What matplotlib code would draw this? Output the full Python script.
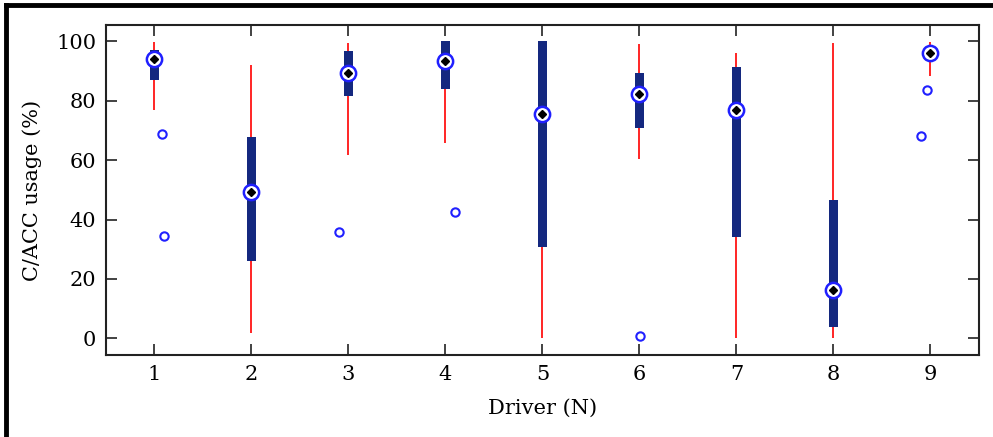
import matplotlib.pyplot as plt
from matplotlib.lines import Line2D

# per-driver box statistics (C/ACC usage in %)
drivers = [1, 2, 3, 4, 5, 6, 7, 8, 9]
whisk_lo = [76.8, 1.8, 61.8, 65.9, 0.0, 60.5, 0.0, 0.0, 88.2]
q1 = [86.9, 26.0, 81.5, 84.1, 30.7, 70.7, 34.1, 3.8, 94.0]
medians = [93.9, 49.3, 89.3, 93.3, 75.6, 82.4, 77.0, 16.2, 96.1]
q3 = [97.2, 67.8, 96.8, 100.0, 100.0, 89.4, 91.4, 46.7, 98.0]
whisk_hi = [99.9, 92.1, 99.5, 100.0, 100.0, 99.0, 96.2, 99.5, 99.9]

# outliers (x includes the jitter seen in the picture)
out_x = [1.08, 1.10, 2.90, 4.10, 6.01, 8.96, 8.90]
out_y = [68.9, 34.3, 35.8, 42.5, 0.7, 83.7, 68.2]

navy = '#14287f'
blue = '#2020ff'

plt.rcParams['font.family'] = 'DejaVu Serif'
fig = plt.figure(figsize=(9.93, 4.37), dpi=100)
ax = fig.add_axes([0.1067, 0.1876, 0.8792, 0.7552])

ax.vlines(drivers, whisk_lo, whisk_hi, colors='red', linewidth=1.2, zorder=1)
ax.bar(drivers, [t - b for t, b in zip(q3, q1)], bottom=q1, width=0.1,
       color=navy, zorder=2)
ax.plot(drivers, medians, 'o', ms=11, mfc='white', mec=blue, mew=1.8, zorder=3)
ax.plot(drivers, medians, 'D', ms=4.5, color='black', zorder=4)
ax.plot(out_x, out_y, 'o', ms=6, mfc='none', mec=blue, mew=1.5, zorder=3)

ax.set_xlim(0.5, 9.5)
ax.set_ylim(-5.6, 105.5)
ax.set_xticks(drivers)
ax.set_yticks(range(0, 101, 20))
ax.tick_params(direction='in', length=8, width=1.2, top=True, right=True,
               labelsize=15, colors='#222222', pad=7)
ax.tick_params(labelcolor='black')
for s in ax.spines.values():
    s.set_linewidth(1.5)
    s.set_color('#222222')

ax.set_xlabel('Driver (N)', fontsize=15, labelpad=11)
ax.set_ylabel('C/ACC usage (%)', fontsize=15, labelpad=10)

# outer frame (top and left edges only)
fig.add_artist(Line2D([0.0065, 1.0], [0.9885, 0.9885], color='black', lw=3.5))
fig.add_artist(Line2D([0.0065, 0.0065], [0.0, 0.9885], color='black', lw=3.5))

fig.savefig('out.png', dpi=100)
